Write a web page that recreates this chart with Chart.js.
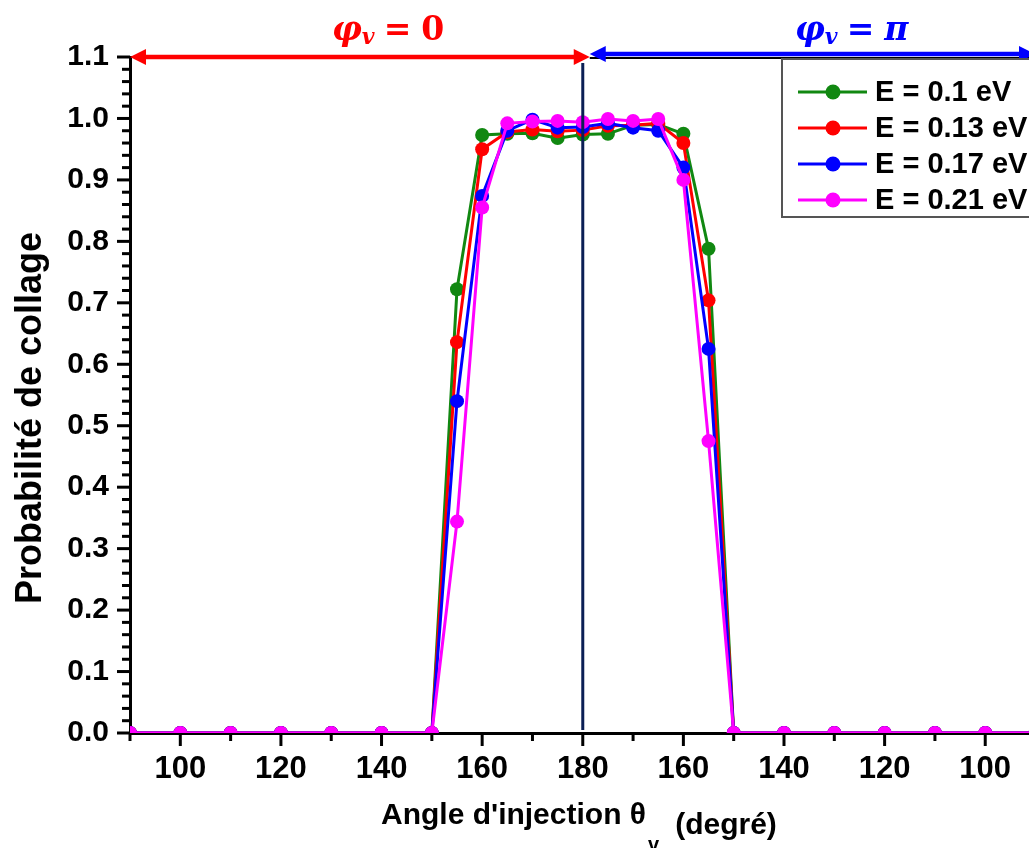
<!DOCTYPE html>
<html>
<head>
<meta charset="utf-8">
<script src="https://cdn.jsdelivr.net/npm/chart.js@4.4.1/dist/chart.umd.min.js"></script>
<style>
  body { margin: 0; background: #fff; }
  #wrap { width: 1029px; height: 848px; }
</style>
</head>
<body>
<div id="wrap"><canvas id="collageChart"></canvas></div>
<script>
// angles (degrees, 90..270; right half is shown mirrored as 360 - x)
const angles = [90, 100, 110, 120, 130, 140, 150, 155, 160, 165, 170, 175, 180,
                185, 190, 195, 200, 205, 210, 220, 230, 240, 250, 260, 270];

const energyLabels = ["E = 0.1 eV", "E = 0.13 eV", "E = 0.17 eV", "E = 0.21 eV"];
const colors = ["#118811", "#ff0000", "#0000ff", "#ff00ff"];

const pE010 = [0, 0, 0, 0, 0, 0, 0, 0.722, 0.973, 0.975, 0.976, 0.968, 0.974,
               0.975, 0.989, 0.990, 0.975, 0.788, 0, 0, 0, 0, 0, 0, 0];
const pE013 = [0, 0, 0, 0, 0, 0, 0, 0.636, 0.950, 0.978, 0.982, 0.979, 0.981,
               0.988, 0.989, 0.992, 0.960, 0.704, 0, 0, 0, 0, 0, 0, 0];
const pE017 = [0, 0, 0, 0, 0, 0, 0, 0.540, 0.874, 0.980, 0.998, 0.985, 0.986,
               0.992, 0.985, 0.980, 0.920, 0.625, 0, 0, 0, 0, 0, 0, 0];
const pE021 = [0, 0, 0, 0, 0, 0, 0, 0.344, 0.855, 0.992, 0.995, 0.996, 0.994,
               0.999, 0.996, 0.999, 0.900, 0.475, 0, 0, 0, 0, 0, 0, 0];

const xTickValues = [90, 100, 110, 120, 130, 140, 150, 160, 170, 180,
                     190, 200, 210, 220, 230, 240, 250, 260];
const yTickValues = [0, 0.1, 0.2, 0.3, 0.4, 0.5, 0.6, 0.7, 0.8, 0.9, 1.0, 1.1];

const FONT = "'Liberation Sans', Arial, sans-serif";
const SERIF = "'DejaVu Serif', 'Liberation Serif', serif";

const series = [pE010, pE013, pE017, pE021];
const datasets = series.map((vals, i) => ({
    label: energyLabels[i],
    data: angles.map((a, k) => ({ x: a, y: vals[k] })),
    borderColor: colors[i],
    backgroundColor: colors[i],
    pointBackgroundColor: colors[i],
    pointBorderWidth: 0,
    pointRadius: 7,
    borderWidth: 3,
    tension: 0,
    clip: 0,
    order: series.length - i
}));

function arrowHead(ctx, tipX, y, dir, color) {
    ctx.fillStyle = color;
    ctx.beginPath();
    ctx.moveTo(tipX, y);
    ctx.lineTo(tipX - dir * 16, y - 8);
    ctx.lineTo(tipX - dir * 16, y + 8);
    ctx.closePath();
    ctx.fill();
}

function phiLabel(ctx, x, y, color, rest) {
    ctx.fillStyle = color;
    ctx.textBaseline = "alphabetic";
    ctx.textAlign = "left";
    ctx.font = "italic bold 33px " + SERIF;
    ctx.fillText("φ", x, y);
    x += ctx.measureText("φ").width;
    ctx.font = "italic bold 22px " + SERIF;
    ctx.fillText("v", x, y + 4);
    x += ctx.measureText("v").width + 9;
    ctx.font = "bold 33px " + SERIF;
    ctx.fillText("=", x, y);
    x += ctx.measureText("=").width + 10;
    ctx.font = (rest === "π" ? "italic " : "") + "bold 33px " + SERIF;
    ctx.fillText(rest, x, y);
}

const decor = {
    id: "decor",
    afterDatasetsDraw(chart) {
        const { ctx, chartArea, scales: { x } } = chart;
        const px = x.getPixelForValue(180);
        ctx.save();
        ctx.strokeStyle = "#0b1f55";
        ctx.lineWidth = 3;
        ctx.beginPath();
        ctx.moveTo(px, chartArea.top + 6);
        ctx.lineTo(px, chartArea.bottom - 3);
        ctx.stroke();
        ctx.restore();
    },
    afterDraw(chart) {
        const { ctx, chartArea, scales: { x, y } } = chart;
        ctx.save();

        // tick marks
        ctx.strokeStyle = "#000";
        ctx.lineWidth = 3;
        xTickValues.forEach(v => {
            const px = x.getPixelForValue(v);
            const len = v % 20 === 0 ? 13 : 8;
            ctx.beginPath();
            ctx.moveTo(px, chartArea.bottom);
            ctx.lineTo(px, chartArea.bottom + len);
            ctx.stroke();
        });
        for (let i = 0; i <= 55; i++) {
            const py = y.getPixelForValue(i * 0.02);
            const len = i % 5 === 0 ? 13 : 8;
            ctx.beginPath();
            ctx.moveTo(chartArea.left, py);
            ctx.lineTo(chartArea.left - len, py);
            ctx.stroke();
        }

        // top arrows
        const yTop = y.getPixelForValue(1.1);
        const pMid = x.getPixelForValue(180) + 7;
        ctx.strokeStyle = "#000";
        ctx.lineWidth = 2;
        ctx.beginPath();
        ctx.moveTo(pMid, yTop + 1);
        ctx.lineTo(chartArea.right, yTop + 1);
        ctx.stroke();

        ctx.lineWidth = 4.5;
        ctx.strokeStyle = "#ff0000";
        ctx.beginPath();
        ctx.moveTo(chartArea.left + 10, yTop);
        ctx.lineTo(pMid - 10, yTop);
        ctx.stroke();
        arrowHead(ctx, chartArea.left, yTop, -1, "#ff0000");
        arrowHead(ctx, pMid, yTop, 1, "#ff0000");

        const yb = yTop - 3;
        ctx.strokeStyle = "#0000ff";
        ctx.beginPath();
        ctx.moveTo(pMid + 10, yb);
        ctx.lineTo(chartArea.right, yb);
        ctx.stroke();
        arrowHead(ctx, pMid, yb, -1, "#0000ff");
        arrowHead(ctx, chartArea.right + 6, yb, 1, "#0000ff");

        phiLabel(ctx, 332, 40, "#ff0000", "0");
        phiLabel(ctx, 795, 40, "#0000ff", "π");

        // legend box
        const lx = 782, ly = 59;
        ctx.fillStyle = "#fff";
        ctx.fillRect(lx, ly, 300, 158);
        ctx.strokeStyle = "#555";
        ctx.lineWidth = 2;
        ctx.strokeRect(lx, ly, 300, 158);
        const rows = [92, 128, 164, 200];
        chart.data.datasets.forEach((ds, i) => {
            const ry = rows[i];
            ctx.strokeStyle = ds.borderColor;
            ctx.lineWidth = 3;
            ctx.beginPath();
            ctx.moveTo(798, ry);
            ctx.lineTo(867, ry);
            ctx.stroke();
            ctx.fillStyle = ds.borderColor;
            ctx.beginPath();
            ctx.arc(833, ry, 7.5, 0, Math.PI * 2);
            ctx.fill();
            ctx.fillStyle = "#000";
            ctx.font = "bold 29px " + FONT;
            ctx.textAlign = "left";
            ctx.textBaseline = "middle";
            ctx.fillText(ds.label, 875, ry + 1);
        });

        // axis titles
        ctx.fillStyle = "#000";
        ctx.save();
        ctx.translate(31, 418);
        ctx.rotate(-Math.PI / 2);
        ctx.font = "bold 36px " + FONT;
        ctx.textAlign = "center";
        ctx.textBaseline = "middle";
        ctx.fillText("Probabilité de collage", 0, 0);
        ctx.restore();

        ctx.textAlign = "left";
        ctx.textBaseline = "alphabetic";
        let tx = 381;
        const main = "Angle d'injection θ";
        ctx.font = "bold 30px " + FONT;
        ctx.fillText(main, tx, 824);
        tx += ctx.measureText(main).width + 2;
        ctx.font = "bold 20px " + FONT;
        ctx.fillText("v", tx, 851);
        tx += ctx.measureText("v").width + 16;
        ctx.font = "bold 30px " + FONT;
        ctx.fillText("(degré)", tx, 834);

        ctx.restore();
    }
};

new Chart(document.getElementById("collageChart"), {
    type: "line",
    data: { datasets: datasets },
    options: {
        responsive: true,
        maintainAspectRatio: false,
        animation: false,
        layout: { autoPadding: false, padding: { top: 57, right: 0, left: 0, bottom: 0 } },
        plugins: { legend: { display: false }, tooltip: { enabled: false } },
        scales: {
            x: {
                type: "linear",
                min: 90,
                max: 268.7,
                afterBuildTicks: s => { s.ticks = xTickValues.map(v => ({ value: v })); },
                afterFit: s => { s.height = 115; s.paddingLeft = 0; s.paddingRight = 0; },
                grid: { display: false, drawTicks: false, tickLength: 0 },
                border: { display: true, color: "#000", width: 3 },
                ticks: {
                    padding: 18,
                    color: "#000",
                    maxRotation: 0,
                    autoSkip: false,
                    font: { family: FONT, size: 31, weight: "bold" },
                    callback: v => (v % 20 === 0 ? String(v <= 180 ? v : 360 - v) : "")
                }
            },
            y: {
                min: 0,
                max: 1.1,
                afterBuildTicks: s => { s.ticks = yTickValues.map(v => ({ value: v })); },
                afterFit: s => { s.width = 130; s.paddingTop = 0; s.paddingBottom = 0; },
                grid: { display: false, drawTicks: false, tickLength: 0 },
                border: { display: true, color: "#000", width: 3 },
                ticks: {
                    padding: 21,
                    color: "#000",
                    font: { family: FONT, size: 30, weight: "bold" },
                    callback: v => Number(v).toFixed(1)
                }
            }
        }
    },
    plugins: [decor]
});
</script>
</body>
</html>
